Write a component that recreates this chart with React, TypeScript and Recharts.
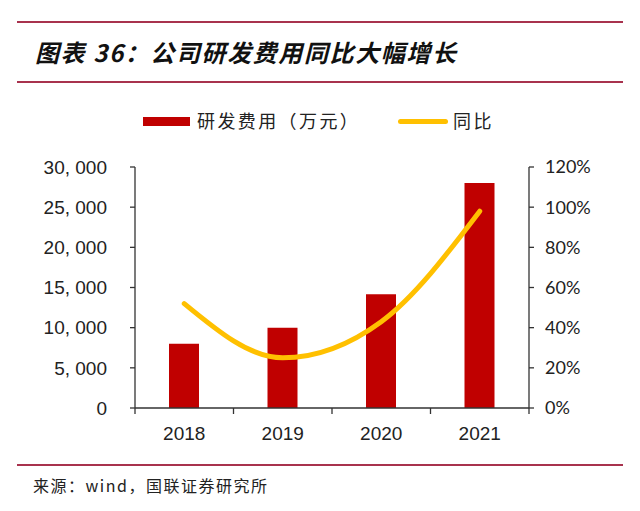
import { Bar, ComposedChart, Legend, Line, XAxis, YAxis } from "recharts";

const years = ["2018", "2019", "2020", "2021"];
const rdExpense = [8000, 10000, 14150, 28000];
const yoyGrowth = [52, 25, 43, 98];
const leftTicks = [0, 5000, 10000, 15000, 20000, 25000, 30000];
const rightTicks = [0, 20, 40, 60, 80, 100, 120];

const title = "图表 36：公司研发费用同比大幅增长";
const barName = "研发费用（万元）";
const lineName = "同比";
const source = "来源：wind，国联证券研究所";

const data = years.map((year, i) => ({
    year,
    expense: rdExpense[i],
    yoy: yoyGrowth[i],
}));

const RED = "#C00000";
const GOLD = "#FFC000";
const RULE = "#A8324E";
const AXIS = "#333333";
const LATIN = "'Liberation Sans', Arial, sans-serif";
const CJK = "'Noto Sans CJK SC', sans-serif";

function formatThousands(v: number) {
    return v >= 1000 ? `${Math.floor(v / 1000)}, ${String(v % 1000).padStart(3, "0")}` : String(v);
}

function YearTick(props: any) {
    const { x, y, payload, index, visibleTicksCount } = props;
    const half = payload.offset ?? 49.25;
    return (
        <g>
            <line x1={x - half} y1={y} x2={x - half} y2={y + 6} stroke={AXIS} strokeWidth={1.3} />
            {index === visibleTicksCount - 1 && (
                <line x1={x + half} y1={y} x2={x + half} y2={y + 6} stroke={AXIS} strokeWidth={1.3} />
            )}
            <text x={x} y={y + 32} textAnchor="middle" fontSize={19} fill="#222" fontFamily={LATIN}>
                {payload.value}
            </text>
        </g>
    );
}

function ChartLegend() {
    return (
        <div style={{ position: "relative", height: 30, fontFamily: CJK, fontSize: 18, color: "#222" }}>
            <div style={{ position: "absolute", left: 143, top: 13, width: 47, height: 9, background: RED }} />
            <div style={{ position: "absolute", left: 197, top: 3, letterSpacing: 2.4, lineHeight: "26px" }}>{barName}</div>
            <div style={{ position: "absolute", left: 398, top: 15, width: 50, height: 5, borderRadius: 3, background: GOLD }} />
            <div style={{ position: "absolute", left: 453, top: 3, letterSpacing: 2.4, lineHeight: "26px" }}>{lineName}</div>
        </div>
    );
}

export default function App() {
    return (
        <div style={{ position: "fixed", left: 0, top: 0, width: 640, height: 511, background: "#fff", overflow: "hidden" }}>
            <div style={{ position: "absolute", left: 17, top: 21, width: 606, height: 2, background: RULE }} />
            <div
                style={{
                    position: "absolute",
                    left: 35,
                    top: 35,
                    fontFamily: CJK,
                    fontWeight: 700,
                    fontStyle: "italic",
                    fontSize: 24,
                    lineHeight: "34px",
                    color: "#111",
                    letterSpacing: 1.6,
                }}
            >
                {title}
            </div>
            <div style={{ position: "absolute", left: 17, top: 81, width: 606, height: 2, background: RULE }} />

            <div style={{ position: "absolute", left: 0, top: 0 }}>
                <ComposedChart width={640} height={511} data={data} margin={{ top: 167, right: 0, bottom: 63, left: 0 }}>
                    <XAxis
                        dataKey="year"
                        xAxisId="x"
                        height={40}
                        tickLine={false}
                        tickSize={0}
                        tickMargin={0}
                        interval={0}
                        axisLine={{ stroke: AXIS, strokeWidth: 1.3 }}
                        tick={<YearTick />}
                    />
                    <YAxis
                        yAxisId="left"
                        width={135}
                        domain={[0, 30000]}
                        ticks={leftTicks}
                        tickFormatter={formatThousands}
                        tickSize={5}
                        tickMargin={23}
                        axisLine={{ stroke: AXIS, strokeWidth: 1.3 }}
                        tickLine={{ stroke: AXIS, strokeWidth: 1.3 }}
                        tick={{ fill: "#222", fontSize: 19, fontFamily: LATIN }}
                    />
                    <YAxis
                        yAxisId="right"
                        orientation="right"
                        width={111}
                        domain={[0, 120]}
                        ticks={rightTicks}
                        tickFormatter={(v) => `${v}%`}
                        tickSize={5}
                        tickMargin={11}
                        axisLine={{ stroke: AXIS, strokeWidth: 1.3 }}
                        tickLine={{ stroke: AXIS, strokeWidth: 1.3 }}
                        tick={{ fill: "#222", fontSize: 18, fontFamily: "Lato, sans-serif", textAnchor: "start" }}
                    />
                    <Legend
                        verticalAlign="middle"
                        layout="horizontal"
                        wrapperStyle={{ position: "absolute", top: 104, left: 0, width: 640 }}
                        content={() => <ChartLegend />}
                    />
                    <Bar
                        xAxisId="x"
                        yAxisId="left"
                        dataKey="expense"
                        name={barName}
                        fill={RED}
                        barSize={30}
                        isAnimationActive={false}
                    />
                    <Line
                        xAxisId="x"
                        yAxisId="right"
                        dataKey="yoy"
                        name={lineName}
                        type="monotone"
                        stroke={GOLD}
                        strokeWidth={5}
                        strokeLinecap="round"
                        dot={false}
                        activeDot={false}
                        isAnimationActive={false}
                    />
                </ComposedChart>
            </div>

            <div style={{ position: "absolute", left: 17, top: 464, width: 606, height: 2, background: RULE }} />
            <div
                style={{
                    position: "absolute",
                    left: 33,
                    top: 473,
                    fontFamily: CJK,
                    fontSize: 16,
                    lineHeight: "24px",
                    color: "#222",
                    letterSpacing: 1.5,
                }}
            >
                {source}
            </div>
        </div>
    );
}
